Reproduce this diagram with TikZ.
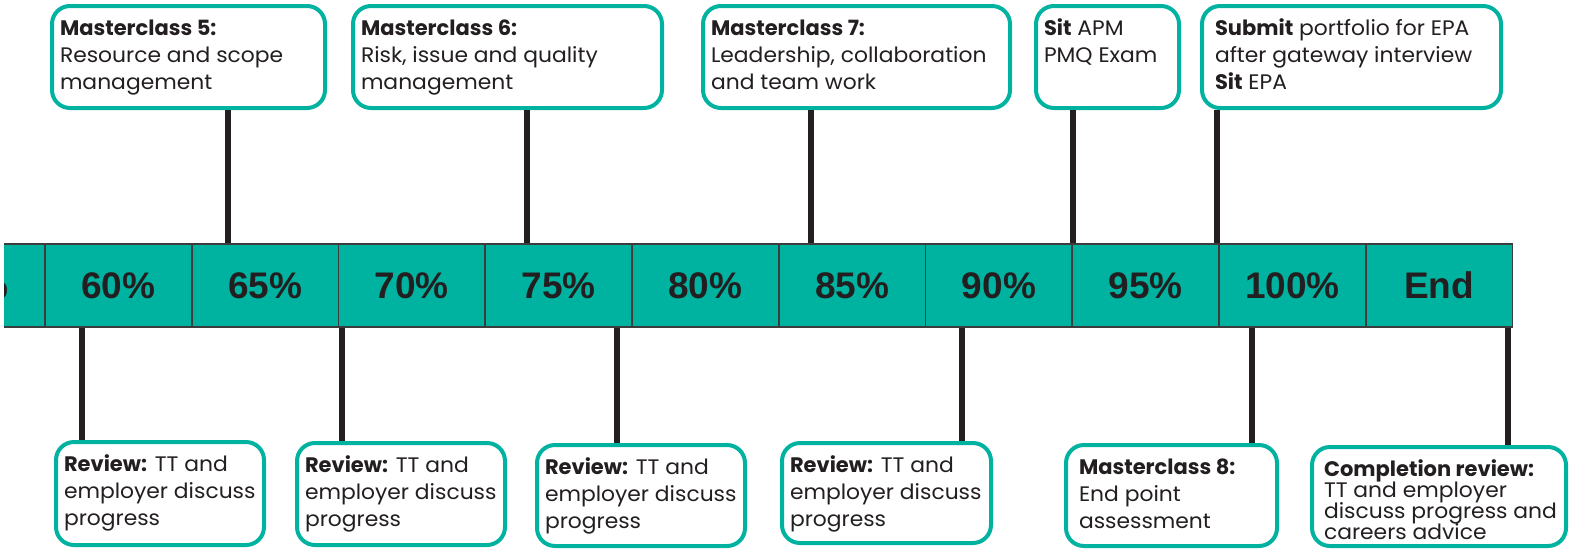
\documentclass[tikz,border=0pt]{standalone}
\usepackage{fontspec}
\setmainfont{Poppins}[UprightFeatures={FakeStretch=1.04}]
\newfontfamily\barfont{Liberation Sans}
\definecolor{mqteal}{HTML}{00B2A0}
\definecolor{ink}{HTML}{231F20}
\definecolor{bargrey}{HTML}{3C3C3C}
\newcommand{\cardtext}[3]{\parbox[c][#2][t]{#1}{\raggedright\lineskiplimit=-20pt\strut#3}}

\begin{document}
\begin{tikzpicture}[x=1pt, y=-1pt,
  every node/.style = {inner sep=0pt, text=ink},
  card/.style = {draw=mqteal, line width=4pt, rounded corners=18pt, fill=white,
    anchor=north west, inner xsep=8pt, inner ysep=11pt, font=\fontsize{21}{27}\selectfont},
  wide/.style = {inner xsep=13pt},
  cell/.style = {draw=bargrey, line width=1.6pt, fill=mqteal, minimum width=146.75pt,
    minimum height=83pt, font=\barfont\bfseries\fontsize{37}{40}\selectfont},
  stem/.style = {draw=ink, line width=6.5pt}]
  \useasboundingbox (0,0) rectangle (1574,550);

  % timeline bar
  \begin{scope}
    \clip (4,0) rectangle (1574,550);
    \foreach \i/\lbl in {0/55\%, 1/60\%, 2/65\%, 3/70\%, 4/75\%, 5/80\%,
                         6/85\%, 7/90\%, 8/95\%, 9/100\%, 10/End}
      \node[cell] (p\i) at ({45+(\i-0.5)*146.75}, 285.5) {\lbl};
  \end{scope}

  % masterclasses above
  \node[card] (mc5) at (50,4) {\cardtext{257pt}{80pt}{\textbf{Masterclass 5:}\\ Resource and scope\\ management}};
  \node[card] (mc6) at (351,4) {\cardtext{293pt}{80pt}{\textbf{Masterclass 6:}\\ Risk, issue and quality\\ management}};
  \node[card] (mc7) at (701,4) {\cardtext{291pt}{80pt}{\textbf{Masterclass 7:}\\ Leadership, collaboration\\ and team work}};
  \node[card] (exam) at (1034,4) {\cardtext{127pt}{80pt}{\textbf{Sit} APM\\ PMQ Exam}};
  \node[card, wide] (epa) at (1200,4) {\cardtext{273pt}{80pt}{\textbf{Submit} portfolio for EPA\\ after gateway interview\\ \textbf{Sit} EPA}};

  % reviews below
  \node[card] (rev1) at (54,440) {\cardtext{192pt}{81pt}{\textbf{Review:} TT and\\ employer discuss\\ progress}};
  \node[card] (rev2) at (295,441) {\cardtext{192pt}{80pt}{\textbf{Review:} TT and\\ employer discuss\\ progress}};
  \node[card] (rev3) at (535,443) {\cardtext{192pt}{79pt}{\textbf{Review:} TT and\\ employer discuss\\ progress}};
  \node[card] (rev4) at (780,441) {\cardtext{193pt}{78pt}{\textbf{Review:} TT and\\ employer discuss\\ progress}};
  \node[card, wide] (mc8) at (1064,443) {\cardtext{185pt}{79pt}{\textbf{Masterclass 8:}\\ End point\\ assessment}};
  \node[card, inner xsep=12pt, inner ysep=13pt, font=\fontsize{21}{21}\selectfont] (done) at (1310,445)
    {\cardtext{230pt}{73pt}{\textbf{Completion review:}\\ TT and employer\\ \mbox{discuss progress and}\\ careers advice}};

  % stems
  \coordinate (s5) at (228,0);
  \coordinate (s6) at (527,0);
  \coordinate (s7) at (811,0);
  \coordinate (sx) at (1073,0);
  \coordinate (se) at (1217,0);
  \draw[stem] (mc5.south -| s5) -- (s5 |- p2.north);
  \draw[stem] (mc6.south -| s6) -- (s6 |- p4.north);
  \draw[stem] (mc7.south -| s7) -- (s7 |- p6.north);
  \draw[stem] (exam.south -| sx) -- (sx |- p8.north);
  \draw[stem] (epa.south -| se) -- (se |- p8.north);
  \coordinate (r1) at (82,0);
  \coordinate (r2) at (342,0);
  \coordinate (r3) at (617,0);
  \coordinate (r4) at (962,0);
  \coordinate (r8) at (1252,0);
  \coordinate (rd) at (1508,0);
  \draw[stem] (p1.south -| r1) -- (r1 |- rev1.north);
  \draw[stem] (p3.south -| r2) -- (r2 |- rev2.north);
  \draw[stem] (p4.south -| r3) -- (r3 |- rev3.north);
  \draw[stem] (p7.south -| r4) -- (r4 |- rev4.north);
  \draw[stem] (p9.south -| r8) -- (r8 |- mc8.north);
  \draw[stem] (p10.south -| rd) -- (rd |- done.north);
\end{tikzpicture}
\end{document}
